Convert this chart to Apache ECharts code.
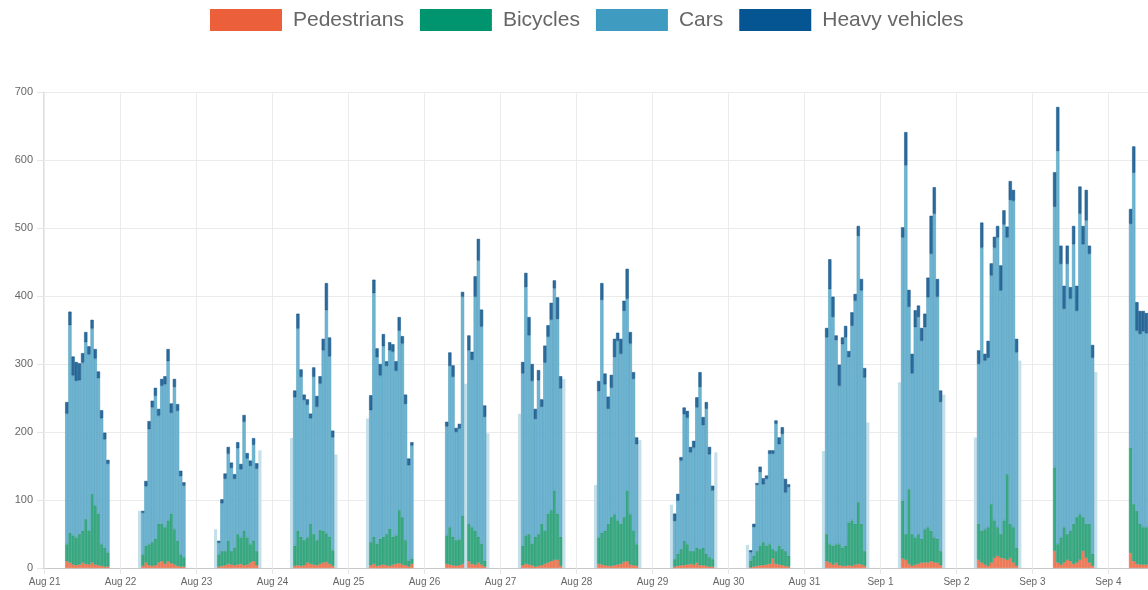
<!DOCTYPE html>
<html>
<head>
<meta charset="utf-8">
<script src="https://cdn.jsdelivr.net/npm/echarts@6/dist/echarts.min.js"></script>
<style>
html,body{margin:0;padding:0;background:#fff;overflow:hidden;width:1148px;height:590px;}
#chart{width:1232px;height:590px;}
</style>
</head>
<body>
<div id="chart"></div>
<script>
// ---- data (hourly counts, each day starts at firstHour) ----
const startYear = 2023, startMonth = 7, startDay = 21; // Aug 21
const firstHour = 7;
const monthNames = ['Jan','Feb','Mar','Apr','May','Jun','Jul','Aug','Sep','Oct','Nov','Dec'];
const seriesNames = ['Pedestrians', 'Bicycles', 'Cars', 'Heavy vehicles'];

const pedestrians = [
  [10, 8, 5, 4, 5, 8, 6, 5, 8, 5, 4, 3, 2, 2],
  [3, 8, 4, 3, 4, 8, 10, 6, 10, 7, 5, 3, 2, 2],
  [2, 3, 4, 6, 5, 4, 5, 6, 4, 5, 8, 10, 4],
  [3, 4, 3, 4, 8, 6, 5, 4, 6, 8, 9, 6, 3],
  [4, 6, 3, 4, 5, 4, 3, 5, 6, 7, 5, 4, 2, 6],
  [6, 5, 4, 3, 4, 6, null, 10, 6, 5, 8, 5, 2],
  [4, 6, 5, 4, 2, 3, 4, 6, 8, 10, 12, 12, 3],
  [6, 5, 4, 3, 3, 4, 5, 6, 9, 10, 5, 4, 3],
  [2, 3, 4, 4, 5, 6, 5, 8, 4, 4, 3, 2, 2],
  [1, 2, 3, 4, 4, 5, 6, 14, 6, 5, 4, 3, 2],
  [10, 8, 5, 8, 4, 3, 3, 4, 3, 5, 6, 5, 3],
  [14, 12, 6, 3, 5, 6, 8, 8, 8, 10, 8, 8, 4],
  [12, 8, 5, 3, 8, 15, 18, 15, 14, 12, 15, 8, 3],
  [25, 8, 5, 8, 12, 10, 6, 8, 12, 25, 15, 8, 3],
  [22, 10, 6, 5, 5, 5]
];
const bicycles = [
  [25, 44, 43, 41, 45, 47, 66, 50, 101, 87, 76, 32, 28, 21],
  [17, 25, 31, 35, 39, 57, 55, 54, 60, 73, 52, 37, 18, 14],
  [18, 22, 21, 34, 20, 26, 45, 39, 51, 40, 27, 30, 21],
  [30, 51, 43, 37, 37, 59, 45, 37, 50, 47, 42, 40, 23],
  [34, 40, 33, 39, 41, 46, 55, 41, 42, 78, 70, 37, 9, 8],
  [42, 55, 42, 38, 38, 71, null, 55, 54, 50, 38, 31, 9],
  [29, 42, 45, 32, 44, 47, 61, 49, 72, 75, 102, 68, 43],
  [39, 47, 51, 62, 72, 75, 65, 59, 66, 104, 74, 51, 32],
  [11, 18, 24, 36, 30, 19, 20, 22, 24, 26, 18, 14, 11],
  [10, 16, 22, 29, 34, 28, 29, 14, 19, 28, 24, 22, 16],
  [40, 27, 28, 27, 31, 27, 30, 63, 67, 60, 91, 60, 22],
  [85, 38, 110, 47, 40, 44, 35, 49, 52, 45, 37, 35, 21],
  [53, 47, 52, 57, 86, 55, 42, 35, 56, 126, 50, 52, 27],
  [123, 27, 40, 52, 38, 45, 59, 67, 67, 50, 50, 57, 18],
  [155, 84, 78, 60, 55, 55]
];
const cars = [
  [192, 305, 235, 230, 226, 247, 260, 259, 243, 216, 199, 185, 159, 130],
  [61, 87, 169, 198, 210, 159, 203, 210, 234, 148, 209, 191, 115, 105],
  [17, 70, 106, 128, 122, 101, 126, 100, 160, 116, 115, 141, 121],
  [218, 297, 235, 206, 195, 155, 231, 196, 215, 265, 328, 265, 166],
  [194, 358, 274, 240, 280, 247, 262, 272, 242, 264, 255, 200, 140, 166],
  [160, 237, 235, 159, 163, 322, null, 255, 246, 344, 406, 319, 211],
  [253, 365, 292, 239, 173, 226, 172, 247, 260, 280, 297, 286, 218],
  [215, 342, 215, 169, 190, 231, 264, 250, 303, 282, 251, 223, 147],
  [56, 78, 130, 186, 186, 145, 152, 206, 238, 180, 213, 151, 101],
  [12, 42, 97, 108, 85, 98, 133, 140, 187, 149, 169, 86, 101],
  [289, 375, 336, 300, 233, 299, 306, 243, 286, 328, 391, 343, 255],
  [387, 542, 268, 236, 309, 319, 291, 297, 338, 407, 476, 356, 219],
  [235, 416, 248, 249, 336, 401, 426, 358, 435, 348, 476, 480, 287],
  [383, 578, 402, 321, 397, 341, 411, 303, 442, 401, 446, 397, 288],
  [329, 487, 265, 279, 288, 285]
];
const heavyVehicles = [
  [17, 20, 28, 28, 25, 14, 15, 12, 13, 14, 10, 12, 10, 6],
  [3, 8, 12, 10, 12, 10, 10, 12, 18, 14, 12, 10, 8, 5],
  [3, 6, 8, 10, 8, 7, 9, 8, 10, 8, 8, 10, 8],
  [10, 22, 11, 8, 8, 7, 14, 16, 11, 17, 40, 28, 10],
  [22, 20, 13, 17, 18, 7, 12, 11, 14, 20, 11, 14, 10, 5],
  [7, 20, 17, 6, 7, 7, null, 22, 12, 30, 32, 25, 17],
  [17, 21, 27, 25, 15, 15, 11, 25, 17, 25, 12, 32, 18],
  [15, 25, 16, 18, 19, 27, 12, 22, 15, 44, 17, 10, 10],
  [11, 10, 5, 10, 10, 8, 10, 15, 22, 12, 10, 11, 7],
  [3, 5, 3, 8, 9, 5, 5, 5, 5, 10, 10, 20, 4],
  [14, 44, 30, 7, 31, 10, 17, 9, 20, 10, 15, 17, 14],
  [15, 49, 25, 29, 25, 17, 19, 20, 29, 56, 39, 26, 17],
  [20, 37, 10, 25, 18, 16, 17, 37, 21, 16, 28, 16, 20],
  [51, 65, 27, 34, 27, 17, 27, 37, 40, 27, 45, 12, 19],
  [22, 39, 42, 34, 30, 30]
];
// pale partial-hour bars: [dayIndex, hour, total]
const paleBars = [
  [1, 6, 84], [2, 6, 57], [2, 20, 173], [3, 6, 191], [3, 20, 167], [4, 6, 220],
  [5, 13, 271], [5, 20, 198], [6, 6, 227], [6, 20, 278], [7, 6, 122], [7, 20, 188],
  [8, 6, 93], [8, 20, 170], [9, 6, 34], [10, 6, 172], [10, 20, 214], [11, 6, 273],
  [11, 20, 255], [12, 6, 192], [12, 20, 305], [13, 20, 288]
];

// ---- build ----
function ts(day, hour) { return Date.UTC(startYear, startMonth, startDay + day, hour); }
function toSeriesData(rows) {
  const out = [];
  rows.forEach((row, d) => row.forEach((v, i) => { if (v !== null) out.push([ts(d, firstHour + i), v]); }));
  return out;
}
const legendColors = ['#EC5F3B', '#00956E', '#3F9CC0', '#045591'];
const barColors = ['#ee7d5c', '#3aaa83', '#6fb5d2', '#2c6c9c'];
const borderColors = ['#e4663f', '#1f946c', '#4396b9', '#0f4f82'];
const allRows = [pedestrians, bicycles, cars, heavyVehicles];

const series = seriesNames.map((name, k) => ({
  name, type: 'bar', stack: 'total', barWidth: 3.2,
  data: toSeriesData(allRows[k]),
  itemStyle: { color: barColors[k], borderColor: borderColors[k], borderWidth: 0.5 },
  emphasis: { disabled: true }
}));
series.push({
  name: 'pale', type: 'bar', stack: 'pale', barWidth: 3.2, barGap: '-100%', z: 1,
  data: paleBars.map(p => [ts(p[0], p[1]), p[2]]),
  itemStyle: { color: '#c6e0ea' },
  emphasis: { disabled: true }
});

const chart = echarts.init(document.getElementById('chart'), null, { renderer: 'canvas' });
chart.setOption({
  useUTC: true,
  animation: false,
  backgroundColor: '#fff',
  legend: {
    data: seriesNames.map((n, k) => ({ name: n, itemStyle: { color: legendColors[k], borderWidth: 0 } })),
    left: 210, top: 9, padding: 0,
    itemWidth: 72, itemHeight: 22, itemGap: 16,
    icon: 'rect',
    textStyle: { fontSize: 21, color: '#666', fontFamily: 'Liberation Sans, Arial, sans-serif', padding: [0, 0, 0, 6] }
  },
  grid: { left: 43, top: 92, right: 8, height: 476, containLabel: false },
  xAxis: {
    type: 'time',
    min: ts(0, 0), max: ts(15, 12),
    minInterval: 86400000, maxInterval: 86400000,
    axisLine: { lineStyle: { color: '#c8c8c8' } },
    axisTick: { show: true, length: 6, lineStyle: { color: '#e6e6e6' } },
    splitLine: { show: true, lineStyle: { color: '#ebebeb' } },
    axisLabel: {
      color: '#666', fontSize: 10, margin: 9, fontFamily: 'Liberation Sans, Arial, sans-serif',
      hideOverlap: false,
      formatter: v => { const d = new Date(v); return monthNames[d.getUTCMonth()] + ' ' + d.getUTCDate(); }
    }
  },
  yAxis: {
    type: 'value', min: 0, max: 700, interval: 100,
    axisLine: { show: true, lineStyle: { color: '#e0e0e0' } },
    axisTick: { show: true, length: 6, lineStyle: { color: '#e6e6e6' } },
    splitLine: { show: true, lineStyle: { color: '#ebebeb' } },
    axisLabel: { color: '#666', fontSize: 11, margin: 10, fontFamily: 'Liberation Sans, Arial, sans-serif' }
  },
  series
});
</script>
</body>
</html>
